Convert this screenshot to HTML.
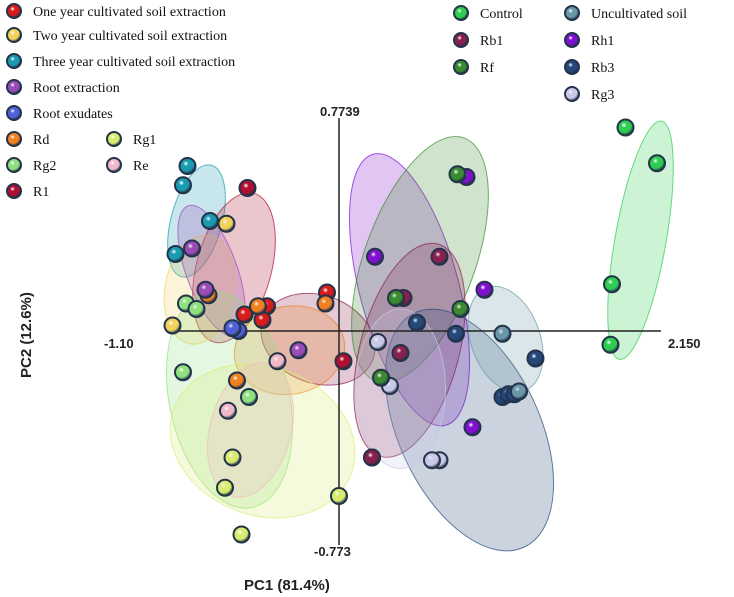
<!DOCTYPE html>
<html><head><meta charset="utf-8"><style>
body{margin:0;background:#fff}
svg{display:block;font-family:"Liberation Serif",serif}
</style></head><body>
<svg id="c" width="734" height="597" xmlns="http://www.w3.org/2000/svg">
<defs id="defs"></defs>
<g id="ell"></g>
<g>
<line x1="339" y1="118" x2="339" y2="545" stroke="#222" stroke-width="1.5"/>
<line x1="166" y1="331" x2="661" y2="331" stroke="#222" stroke-width="1.5"/>
</g>
<g id="pts"></g>
<g font-family="Liberation Sans,sans-serif" font-weight="bold" font-size="13" fill="#222">
<text x="320" y="116">0.7739</text>
<text x="314" y="556">-0.773</text>
<text x="104" y="348">-1.10</text>
<text x="668" y="348">2.150</text>
<text x="244" y="590" font-size="15">PC1 (81.4%)</text>
<text transform="translate(31,378) rotate(-90)" font-size="15">PC2 (12.6%)</text>
</g>
<g id="leg" font-size="14" fill="#111"></g>
</svg>
<script>
const groupNames=['One year cultivated soil extraction','Two year cultivated  soil extraction','Three year cultivated  soil extraction','Root extraction','Root exudates','Rd','Rg2','R1','Rg1','Re','Control','Rb1','Rf','Uncultivated soil','Rh1','Rb3','Rg3'];
const groupColors=['#d81c1c','#f2d25a','#1a9bb0','#9a4bb8','#5060d8','#f08020','#8ee080','#b01030','#d8ec70','#f0b8c8','#2ecc50','#8a2050','#3a8a30','#6a98a8','#8010d0','#24487a','#c8c8e8'];
// PCA scores: [group index, PC1, PC2]
const scoreGroup=[2,2,2,2, 7,0,0,0,0,7,7, 1,5,5,5,5, 1, 6,6,6,6, 8,8,8,8, 3,3,3, 4,4, 9,9, 14,14,14,14, 16,16,16,16, 11,11,11,11, 12,12,12,12, 15,15,15,15,15,15, 13,13, 10,10,10,10];
const scorePC1=[-1.01,-1.04,-0.86,-1.09, -0.61,-0.63,-0.48,-0.51,-0.08,0.03,0.22, -0.75,-0.54,-0.87,-0.09,-0.68,-1.11, -1.02,-0.95,-1.04,-0.60,0.0,-0.65,-0.76,-0.71, -0.98,-0.89,-0.27, -0.67,-0.71, -0.41,-0.74, 0.85,0.24,0.97,0.89, 0.26,0.34,0.67,0.62, 0.67,0.43,0.41,0.22, 0.79,0.81,0.38,0.28, 0.52,0.78,1.31,1.09,1.13,1.17, 1.09,1.20, 1.91,2.12,1.82,1.81];
const scorePC2=[0.60,0.53,0.40,0.28, 0.52,0.06,0.09,0.04,0.14,-0.11,-0.46, 0.39,0.09,0.13,0.10,-0.18, 0.02, 0.10,0.08,-0.15,-0.24,-0.60,-0.74,-0.57,-0.46, 0.30,0.15,-0.07, 0.0,0.01, -0.11,-0.29, 0.56,0.27,0.15,-0.35, -0.04,-0.20,-0.47,-0.47, 0.27,0.12,-0.08,-0.46, 0.57,0.08,0.12,-0.17, 0.03,-0.01,-0.10,-0.24,-0.23,-0.23, -0.01,-0.22, 0.74,0.61,0.17,-0.05];
// ellipses: group, center PC1, PC2, rx, ry (PC units), rotation deg
const ellGroup=[2,7,1,3,11,5,6,8,9,14,12,11,15,16,13,10];
const ellPC1=[-0.95,-0.70,-0.93,-0.85,-0.14,-0.33,-0.73,-0.51,-0.59,0.47,0.54,0.47,0.87,0.41,1.11,2.01];
const ellPC2=[0.40,0.23,0.15,0.22,-0.03,-0.07,-0.25,-0.40,-0.36,0.15,0.26,-0.07,-0.36,-0.21,-0.03,0.33];
const ellRX=[0.17,0.25,0.23,0.17,0.39,0.37,0.40,0.63,0.27,0.33,0.37,0.33,0.47,0.30,0.23,0.17];
const ellRY=[0.21,0.28,0.20,0.25,0.16,0.16,0.40,0.27,0.25,0.51,0.47,0.40,0.47,0.29,0.20,0.44];
const ellRot=[15,15,10,-20,20,-10,-12,20,15,-15,20,15,-25,0,-20,10];
const X=v=>339+v*150, Y=v=>331-v*275;
const ns='http://www.w3.org/2000/svg';
const defs=document.getElementById('defs');
groupColors.forEach((c,i)=>{
 const g=document.createElementNS(ns,'radialGradient');
 g.setAttribute('id','g'+i);g.setAttribute('cx','0.4');g.setAttribute('cy','0.35');g.setAttribute('r','0.65');
 g.innerHTML=`<stop offset="0" stop-color="#fff" stop-opacity="0.8"/><stop offset="0.25" stop-color="${c}"/><stop offset="0.7" stop-color="${c}"/><stop offset="1" stop-color="#1c2f45"/>`;
 defs.appendChild(g);
});
const eg=document.getElementById('ell');
ellGroup.forEach((gi,i)=>{
 const e=document.createElementNS(ns,'ellipse');
 const cx=X(ellPC1[i]),cy=Y(ellPC2[i]);
 e.setAttribute('cx',cx);e.setAttribute('cy',cy);
 e.setAttribute('rx',ellRX[i]*150);e.setAttribute('ry',ellRY[i]*275);
 e.setAttribute('transform',`rotate(${ellRot[i]} ${cx} ${cy})`);
 e.setAttribute('fill',groupColors[gi]);e.setAttribute('fill-opacity','0.24');
 e.setAttribute('stroke',groupColors[gi]);e.setAttribute('stroke-opacity','0.7');
 
 
 eg.appendChild(e);
});
function ball(parent,x,y,gi,r){
 const s=document.createElementNS(ns,'circle');
 s.setAttribute('cx',x);s.setAttribute('cy',y);s.setAttribute('r',r||8);
 s.setAttribute('fill','url(#g'+gi+')');s.setAttribute('stroke','#23334a');s.setAttribute('stroke-width','2');
 parent.appendChild(s);return s;
}
const pg=document.getElementById('pts');
scoreGroup.forEach((gi,i)=>{
 const s=ball(pg,X(scorePC1[i]),Y(scorePC2[i]),gi);
 
 
});
const lg=document.getElementById('leg');
const legPos=[[14,11],[14,35],[14,61],[14,87],[14,113],[14,139],[14,165],[14,191],[114,139],[114,165],[461,13],[461,40],[461,67],[572,13],[572,40],[572,67],[572,94]];
legPos.forEach((p,i)=>{
 const s=ball(lg,p[0],p[1],i,7);
 
 
 const t=document.createElementNS(ns,'text');
 t.setAttribute('x',p[0]+19);t.setAttribute('y',p[1]+5);
 t.textContent=groupNames[i];
 
 
 lg.appendChild(t);
});
</script>
</body></html>
